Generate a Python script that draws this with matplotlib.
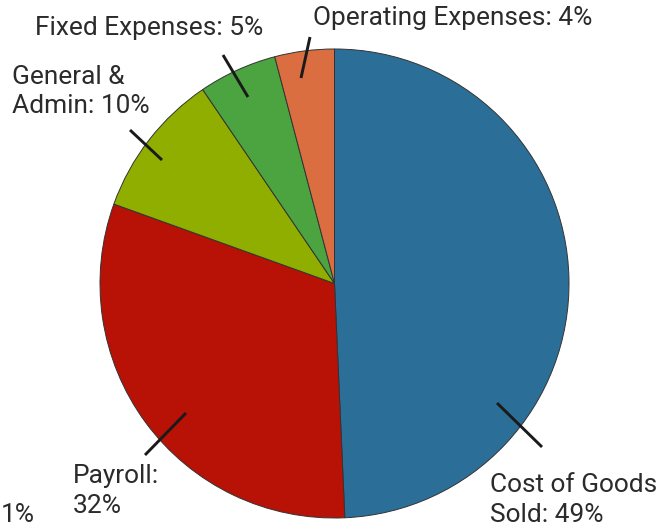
import matplotlib.pyplot as plt

# expense breakdown (share of total)
categories = ['Cost of Goods Sold', 'Payroll', 'General & Admin',
              'Fixed Expenses', 'Operating Expenses']
shares = [49.3, 31.2, 10.0, 5.4, 4.1]
labels = ['Cost of Goods\nSold: 49%', 'Payroll:\n32%', 'General &\nAdmin: 10%',
          'Fixed Expenses: 5%', 'Operating Expenses: 4%']
colors = ['#2b6f98', '#b81106', '#8fae00', '#4ba43f', '#db6e40']

W, H = 665, 529


def py(y):
    # image row -> data y (axes run in pixels, origin bottom-left)
    return H - y


plt.rcParams['font.family'] = ['Roboto', 'DejaVu Sans']

fig = plt.figure(figsize=(W / 100, H / 100), dpi=100)
ax = fig.add_axes([0, 0, 1, 1])

ax.pie(shares, colors=colors, startangle=90, counterclock=False,
       center=(334.5, py(283.5)), radius=234.5, frame=True,
       wedgeprops=dict(edgecolor='#333333', linewidth=0.7))
ax.set_xlim(0, W)
ax.set_ylim(0, H)
ax.set_aspect('equal')
ax.axis('off')

# label text position (left x, top row) and leader line (inner pt, outer pt)
layout = [
    ((490, 473.5), (497, 403), (542, 447)),
    ((73, 464.5), (186, 413), (145, 455)),
    ((12, 64.5), (162, 160), (130, 130)),
    ((35, 16.5), (248, 97), (223, 55)),
    ((313, 6.5), (301, 78), (310, 37)),
]

for lab, (tpos, p0, p1) in zip(labels, layout):
    ax.plot([p0[0], p1[0]], [py(p0[1]), py(p1[1])], color='#1a1a1a',
            lw=2.1, solid_capstyle='butt')
    ax.text(tpos[0], py(tpos[1]), lab, ha='left', va='top', fontsize=18.9,
            color='#2b2b2b', linespacing=1.28)

# stray label at the bottom-left edge
ax.text(1, py(503.5), '1%', ha='left', va='top', fontsize=18.9,
        color='#2b2b2b')

fig.savefig('out.png', dpi=100)
